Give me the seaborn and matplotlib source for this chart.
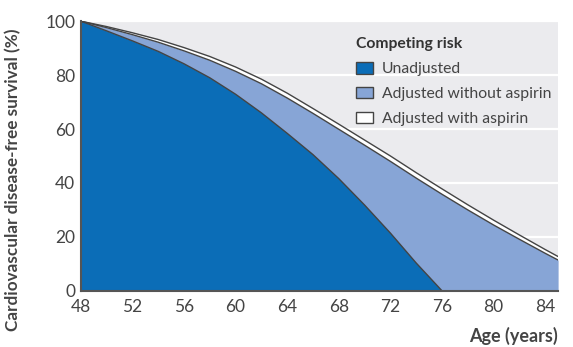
import matplotlib
matplotlib.use("Agg")
import matplotlib.pyplot as plt
import seaborn as sns
import pandas as pd
from matplotlib.patches import Patch

# --- data ---
ages = [48, 50, 52, 54, 56, 58, 60, 62, 64, 66, 68, 70, 72, 74, 76, 78, 80, 82, 84, 85]
with_aspirin = [100, 98.0, 95.7, 93.2, 90.2, 86.9, 83.0, 78.5, 73.3, 67.6, 61.8,
                55.9, 50.0, 43.8, 37.8, 31.9, 26.2, 20.7, 15.3, 12.7]
without_aspirin = [100, 97.6, 95.0, 92.2, 89.0, 85.5, 81.4, 76.8, 71.5, 65.8, 59.9,
                   54.0, 48.0, 41.8, 35.8, 30.0, 24.4, 19.1, 13.9, 11.4]
unadj_ages = [48, 50, 52, 54, 56, 58, 60, 62, 64, 66, 68, 70, 72, 74, 76]
unadjusted = [100, 96.4, 92.7, 88.8, 84.2, 79.0, 72.9, 66.0, 58.4, 50.5, 41.6,
              31.8, 21.4, 10.3, 0]

labels = ["Unadjusted", "Adjusted without aspirin", "Adjusted with aspirin"]
colors = ["#0b6db7", "#87a5d6", "#ffffff"]
edge = "#444444"

sns.set_style("darkgrid", {"axes.facecolor": "#ebebee", "grid.color": "white"})
plt.rcParams["font.family"] = ["Lato", "DejaVu Sans"]

fig, ax = plt.subplots(figsize=(5.73, 3.47), dpi=100)
fig.subplots_adjust(left=0.141, right=0.974, top=0.939, bottom=0.162)

curves = [
    (ages, with_aspirin, colors[2]),
    (ages, without_aspirin, colors[1]),
    (unadj_ages, unadjusted, colors[0]),
]
for x, y, c in curves:
    ax.fill_between(x, 0, y, color=c, linewidth=0, zorder=2)
    df = pd.DataFrame({"age": x, "surv": y})
    sns.lineplot(data=df, x="age", y="surv", ax=ax, color=edge, linewidth=1.0, zorder=3)

ax.set_xlim(48, 85)
ax.set_ylim(0, 100)
ax.set_xticks(range(48, 85, 4))
ax.set_yticks(range(0, 101, 20))
ax.grid(axis="x", visible=False)
ax.grid(axis="y", color="white", linewidth=1.6, zorder=1)
ax.set_axisbelow(True)

for s in ["top", "right"]:
    ax.spines[s].set_visible(False)
for s in ["left", "bottom"]:
    ax.spines[s].set_visible(True)
    ax.spines[s].set_color("#555555")
    ax.spines[s].set_linewidth(1.5)
    ax.spines[s].set_zorder(4)

ax.tick_params(axis="both", length=0, labelsize=12.5, labelcolor="#444444")
ax.tick_params(axis="x", pad=6)
ax.tick_params(axis="y", pad=4)

ax.set_xlabel("Age (years)", loc="right", fontsize=13, fontweight="bold", color="#444444")
ax.xaxis.set_label_coords(1.0, -0.135)
ax.set_ylabel("Cardiovascular disease-free survival (%)", fontsize=12.3,
              fontweight="bold", color="#444444")
ax.yaxis.set_label_coords(-0.125, 0.41)

handles = [Patch(facecolor=c, edgecolor=edge, linewidth=1) for c in colors]
leg = ax.legend(handles, labels, title="Competing risk", loc="upper left",
                bbox_to_anchor=(0.577, 0.94), frameon=False, fontsize=11.3,
                borderpad=0, borderaxespad=0, handlelength=1.1, handleheight=0.75,
                handletextpad=0.55, labelspacing=0.68, alignment="left")
leg.get_title().set_fontweight("bold")
leg.get_title().set_fontsize(11.3)
leg.get_title().set_color("#333333")
for t in leg.get_texts():
    t.set_color("#444444")

plt.savefig("out.png", dpi=100)
plt.close()
